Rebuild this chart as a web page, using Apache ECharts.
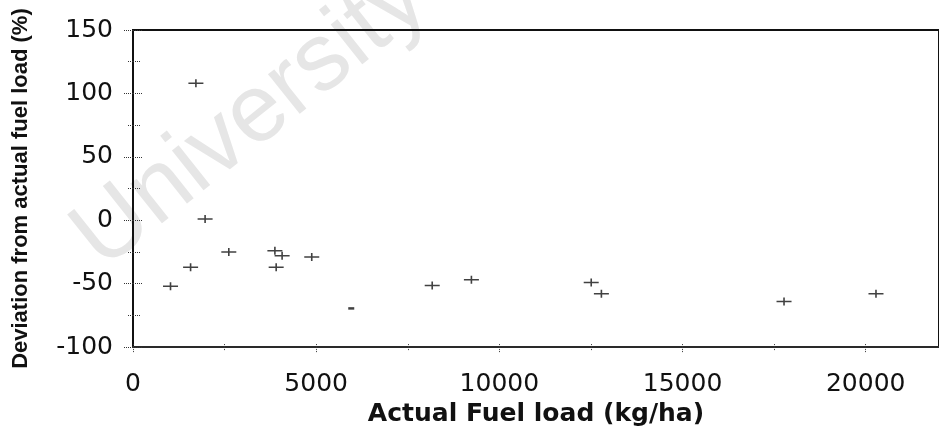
<!DOCTYPE html>
<html>
<head>
<meta charset="utf-8">
<script src="https://cdn.jsdelivr.net/npm/echarts@6/dist/echarts.min.js"></script>
<style>
  html, body { margin: 0; padding: 0; background: #fff; }
  #chart { width: 939px; height: 432px; }
</style>
</head>
<body>
<div id="chart"></div>
<script>
  // values
  var fuelLoad = [1024, 1572, 1717, 1968, 2615, 3873, 3908, 4070, 4879, 8167, 9237, 12507, 12785, 17770, 20280]
  var deviation = [-52, -37, 108, 1, -25, -24, -37, -28, -29, -51.5, -47, -49, -58, -64, -58]
  // the one point printed as a short dash only
  var dashLoad = [5957]
  var dashDeviation = [-69.5]

  var xTitle = 'Actual Fuel load (kg/ha)'
  var yTitle = 'Deviation from actual fuel load (%)'

  function pairs(xs, ys) {
    return xs.map(function (x, i) { return [x, ys[i]] })
  }

  var crossPath = 'path://M0,3.25h14v1.5H0z M6.25,0h1.5v8h-1.5z'
  var tickStyle = { color: '#333', width: 1, type: 'dotted' }
  var plain = function (v) { return String(v) }

  var chart = echarts.init(document.getElementById('chart'))
  chart.setOption({
    backgroundColor: '#fff',
    animation: false,
    textStyle: { fontFamily: 'DejaVu Sans' },
    graphic: [{
      type: 'text',
      z: -10,
      silent: true,
      x: 86,
      y: 250,
      rotation: 38.5 * Math.PI / 180,
      style: {
        text: 'University of Cape Town',
        font: '96px "Liberation Sans", Arial, sans-serif',
        fill: '#e6e6e6',
        align: 'left',
        verticalAlign: 'middle'
      }
    }],
    grid: {
      left: 133,
      right: -10,
      top: 30,
      bottom: 77,
      show: true,
      borderColor: '#111',
      borderWidth: 2
    },
    xAxis: [{
      type: 'value',
      min: 0,
      max: 22000,
      interval: 5000,
      name: xTitle,
      nameLocation: 'middle',
      nameGap: 49,
      nameTextStyle: { fontFamily: 'DejaVu Sans', fontWeight: 'bold', fontSize: 25, color: '#111' },
      axisLine: { onZero: false, lineStyle: { color: '#333', width: 1.5 } },
      axisTick: { length: 5, lineStyle: tickStyle },
      minorTick: { show: true, splitNumber: 2, length: 4, lineStyle: tickStyle },
      axisLabel: { margin: 25, fontSize: 25, color: '#111', showMaxLabel: false, formatter: plain },
      splitLine: { show: false }
    }, {
      type: 'value',
      position: 'bottom',
      min: 0,
      max: 22000,
      interval: 5000,
      axisLine: { show: false, onZero: false },
      axisTick: { inside: true, length: 4, lineStyle: tickStyle },
      minorTick: { show: true, splitNumber: 2, length: 3, lineStyle: tickStyle },
      axisLabel: { show: false },
      splitLine: { show: false }
    }],
    yAxis: [{
      type: 'value',
      min: -100,
      max: 150,
      interval: 50,
      name: yTitle,
      nameLocation: 'middle',
      nameGap: 101,
      nameTextStyle: { fontFamily: 'Liberation Sans', fontWeight: 'bold', fontSize: 22, color: '#111' },
      axisLine: { show: true, onZero: false, lineStyle: { color: '#111', width: 2 } },
      axisTick: { length: 9, lineStyle: tickStyle },
      minorTick: { show: true, splitNumber: 2, length: 6, lineStyle: tickStyle },
      axisLabel: { margin: 20, fontSize: 25, color: '#111', formatter: plain },
      splitLine: { show: false }
    }, {
      type: 'value',
      position: 'left',
      min: -100,
      max: 150,
      interval: 50,
      axisLine: { show: false, onZero: false },
      axisTick: { inside: true, length: 10, lineStyle: tickStyle },
      minorTick: { show: true, splitNumber: 2, length: 8, lineStyle: tickStyle },
      axisLabel: { show: false },
      splitLine: { show: false }
    }],
    series: [{
      type: 'scatter',
      symbol: crossPath,
      symbolSize: [15, 8],
      itemStyle: { color: '#111' },
      data: pairs(fuelLoad, deviation)
    }, {
      type: 'scatter',
      symbol: 'rect',
      symbolSize: [6, 2.5],
      itemStyle: { color: '#111' },
      data: pairs(dashLoad, dashDeviation)
    }]
  })
</script>
</body>
</html>
